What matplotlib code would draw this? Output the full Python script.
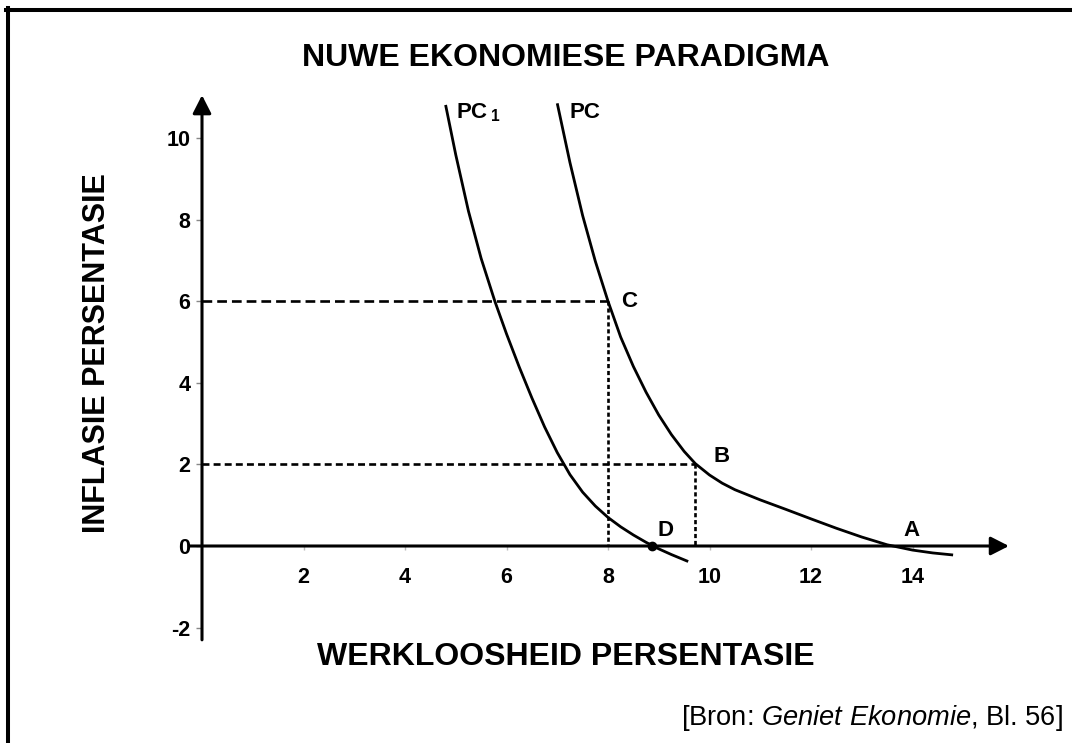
import matplotlib
matplotlib.use("Agg")
import matplotlib.pyplot as plt
from matplotlib.lines import Line2D

plt.rcParams['font.family'] = ['Liberation Sans', 'DejaVu Sans']
plt.rcParams['axes.unicode_minus'] = False
plt.rcParams['lines.scale_dashes'] = False
plt.rcParams['mathtext.fontset'] = 'custom'
plt.rcParams['mathtext.rm'] = 'Liberation Sans'
plt.rcParams['mathtext.it'] = 'Liberation Sans:italic'
plt.rcParams['mathtext.bf'] = 'Liberation Sans:bold'

# curve PC (original Phillips curve)
pc_x = [7.0, 7.25, 7.5, 7.75, 8.0, 8.25, 8.5, 8.75, 9.0, 9.25, 9.5, 9.72, 10.0, 10.25,
        10.5, 11.0, 11.5, 12.0, 12.5, 13.0, 13.5, 14.0, 14.4, 14.8]
pc_y = [10.85, 9.4, 8.1, 6.98, 6.0, 5.12, 4.40, 3.77, 3.21, 2.73, 2.32, 2.02, 1.74, 1.54,
        1.38, 1.13, 0.9, 0.665, 0.435, 0.22, 0.03, -0.1, -0.17, -0.22]

# curve PC1 (shifted)
pc1_x = [4.8, 5.0, 5.25, 5.5, 5.77, 6.0, 6.25, 6.5, 6.75, 7.0, 7.25, 7.5, 7.75, 8.0,
         8.25, 8.5, 8.75, 9.0, 9.25, 9.58]
pc1_y = [10.81, 9.59, 8.21, 7.05, 6.0, 5.2, 4.39, 3.63, 2.92, 2.29, 1.75, 1.32, 0.98, 0.70,
         0.47, 0.27, 0.09, -0.07, -0.21, -0.38]

# labelled points
pt_names = ['A', 'B', 'C', 'D']
pt_x = [13.6, 9.72, 8.0, 8.86]
pt_y = [0.0, 2.0, 6.0, 0.0]

x_ticks = [2, 4, 6, 8, 10, 12, 14]
y_ticks = [-2, 0, 2, 4, 6, 8, 10]

fig = plt.figure(figsize=(10.72, 7.43), dpi=100)
ax = fig.add_axes([0, 0, 1, 1])
ax.set_facecolor('none')
ax.set_xlim(-202 / 50.75, (1072 - 202) / 50.75)
ax.set_ylim(-(743 - 546) / 40.8, 546 / 40.8)

for s in ['top', 'right']:
    ax.spines[s].set_visible(False)
for s in ['left', 'bottom']:
    ax.spines[s].set_position(('data', 0))
    ax.spines[s].set_visible(False)

ax.set_xticks(x_ticks)
ax.set_yticks(y_ticks)
ax.set_xticklabels([str(v) for v in x_ticks], fontsize=15.5, fontweight='bold')
ax.set_yticklabels([str(v) for v in y_ticks], fontsize=15.5, fontweight='bold')
ax.tick_params(axis='y', direction='out', length=4.5, width=1, color='#888888', pad=4)
ax.tick_params(axis='x', direction='out', length=3, width=1, color='#bbbbbb', pad=12)

arrow = dict(arrowstyle='-|>,head_length=0.55,head_width=0.28', mutation_scale=20,
             lw=2.2, color='black', shrinkA=0, shrinkB=0)
ax.annotate('', xy=(15.9, 0), xytext=(-0.25, 0), arrowprops=arrow)
ax.annotate('', xy=(0, 11.05), xytext=(0, -2.3), arrowprops=arrow)

# curves
ax.plot(pc_x, pc_y, color='black', lw=2.0, solid_capstyle='butt', solid_joinstyle='round')
ax.plot(pc1_x, pc1_y, color='black', lw=2.0, solid_capstyle='butt', solid_joinstyle='round')

# dashed guide lines from C and B
bx, by = pt_x[1], pt_y[1]
cx, cy = pt_x[2], pt_y[2]
ax.plot([0, cx], [cy, cy], color='black', lw=1.9, dashes=(7, 3.6))
ax.plot([cx, cx], [cy, 0], color='black', lw=1.9, dashes=(3, 2))
ax.plot([0, bx], [by, by], color='black', lw=1.9, dashes=(5, 3))
ax.plot([bx, bx], [by, 0], color='black', lw=1.9, dashes=(3, 2))

# point D marker
ax.plot(pt_x[3], pt_y[3], 'o', color='black', ms=6)

lbl = dict(fontsize=16, fontweight='bold', va='center')
ax.text(pt_x[0] + 0.38, pt_y[0] + 0.38, pt_names[0], ha='center', **lbl)
ax.text(bx + 0.36, by + 0.2, pt_names[1], ha='left', **lbl)
ax.text(cx + 0.26, cy, pt_names[2], ha='left', **lbl)
ax.text(pt_x[3] + 0.27, pt_y[3] + 0.38, pt_names[3], ha='center', **lbl)
ax.text(pc1_x[0] + 0.2, 10.62, r'PC$\,_\mathbf{1}$', ha='left', **lbl)
ax.text(pc_x[0] + 0.25, 10.62, 'PC', ha='left', **lbl)

# titles and axis labels
fig.text(0.528, 0.922, 'NUWE EKONOMIESE PARADIGMA', ha='center', va='center',
         fontsize=23, fontweight='bold')
fig.text(0.0905, 0.525, 'INFLASIE PERSENTASIE', ha='center', va='center',
         rotation=90, fontsize=22, fontweight='bold')
fig.text(0.528, 0.116, 'WERKLOOSHEID PERSENTASIE', ha='center', va='center',
         fontsize=23, fontweight='bold')
fig.text(0.9916, 0.034, r'[Bron: $\mathit{Geniet\ Ekonomie}$, Bl. 56]',
         ha='right', va='center', fontsize=19.6)

# frame lines (left and top)
fig.add_artist(Line2D([8 / 1072, 8 / 1072], [0, 1 - 8 / 743], transform=fig.transFigure,
                      color='black', lw=2.9))
fig.add_artist(Line2D([6 / 1072, 1], [1 - 10 / 743, 1 - 10 / 743], transform=fig.transFigure,
                      color='black', lw=2.9))

fig.savefig('out.png', dpi=100)
